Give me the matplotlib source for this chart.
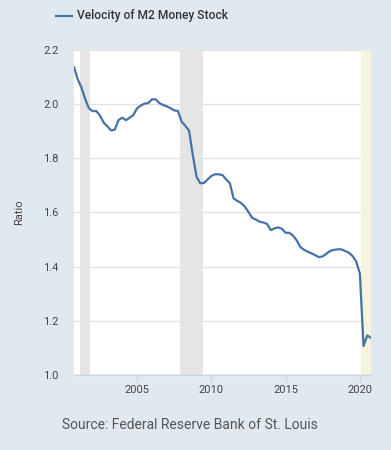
import matplotlib
matplotlib.use("Agg")
import matplotlib.pyplot as plt
import numpy as np
import pandas as pd

plt.rcParams['font.family'] = ['Roboto', 'DejaVu Sans']

# Quarterly data, 2000Q4 .. 2020Q4
dates = pd.date_range("2000-10-01", "2020-10-01", freq="QS")
velocity = [
    2.136, 2.092, 2.062, 2.020, 1.985, 1.974, 1.975, 1.958, 1.932, 1.918,
    1.903, 1.906, 1.941, 1.950, 1.941, 1.950, 1.960, 1.985, 1.995, 2.002,
    2.004, 2.018, 2.018, 2.004, 1.997, 1.992, 1.985, 1.977, 1.975, 1.935,
    1.920, 1.902, 1.812, 1.732, 1.708, 1.709, 1.722, 1.735, 1.741, 1.741,
    1.738, 1.722, 1.708, 1.652, 1.643, 1.635, 1.622, 1.602, 1.580, 1.574,
    1.566, 1.563, 1.558, 1.535, 1.541, 1.545, 1.540, 1.525, 1.525, 1.515,
    1.497, 1.472, 1.462, 1.455, 1.449, 1.442, 1.435, 1.438, 1.448, 1.458,
    1.462, 1.464, 1.464, 1.458, 1.452, 1.440, 1.420, 1.375, 1.107, 1.146,
    1.137,
]
recessions = [("2001-03-01", "2001-11-01"), ("2007-12-01", "2009-06-01")]
current_recession = ("2020-02-01", "2020-10-01")
x_ticks = ["2005-01-01", "2010-01-01", "2015-01-01", "2020-01-01"]
x_tick_labels = ["2005", "2010", "2015", "2020"]
y_ticks = [1.0, 1.2, 1.4, 1.6, 1.8, 2.0, 2.2]

bg = "#E1E9F0"
fig = plt.figure(figsize=(3.91, 4.5), dpi=100, facecolor=bg)
ax = fig.add_axes([74/391, 1-375/450, (371-74)/391, (375-50)/450])
ax.set_facecolor("white")

for s, e in recessions:
    ax.axvspan(pd.Timestamp(s), pd.Timestamp(e), color="#E5E5E5", lw=0, zorder=1)
ax.axvspan(pd.Timestamp(current_recession[0]), pd.Timestamp(current_recession[1]),
           color="#F5F4DC", lw=0, zorder=1)

ax.plot(dates, velocity, color="#4572A7", lw=1.6, zorder=3,
        solid_joinstyle="round", label="Velocity of M2 Money Stock")

ax.set_xlim(dates[0], dates[-1])
ax.set_ylim(1.0, 2.2)
ax.set_yticks(y_ticks)
ax.set_yticklabels([f"{v:.1f}" for v in y_ticks])
ax.yaxis.grid(True, color="#E3E3E3", lw=1, zorder=0)
ax.set_axisbelow(True)

ax.set_xticks([pd.Timestamp(t) for t in x_ticks])
ax.set_xticklabels(x_tick_labels)

for side in ["top", "right", "left"]:
    ax.spines[side].set_visible(False)
ax.spines["bottom"].set_color("#C8D3E3")
ax.spines["bottom"].set_linewidth(1)

ax.tick_params(axis="y", length=0, pad=11, labelsize=8, labelcolor="#444444")
ax.tick_params(axis="x", length=5, width=1, color="#C8D3E3", pad=2,
               labelsize=8, labelcolor="#444444")

ax.set_ylabel("Ratio", fontsize=8, color="#444444")
ax.yaxis.set_label_coords(-50/297, 0.5)

# legend
fig.add_artist(plt.Line2D([56/391, 72/391], [1-16/450, 1-16/450],
                          color="#4572A7", lw=1.6, transform=fig.transFigure))
fig.text(77/391, 1-16/450, "Velocity of M2 Money Stock", fontsize=8.65,
         fontweight="medium", color="#333333", va="center", ha="left")

fig.text(62/391, 1-425/450, "Source: Federal Reserve Bank of St. Louis",
         fontsize=10.0, color="#555555", va="center", ha="left")

fig.savefig("out.png", dpi=100, facecolor=bg)
